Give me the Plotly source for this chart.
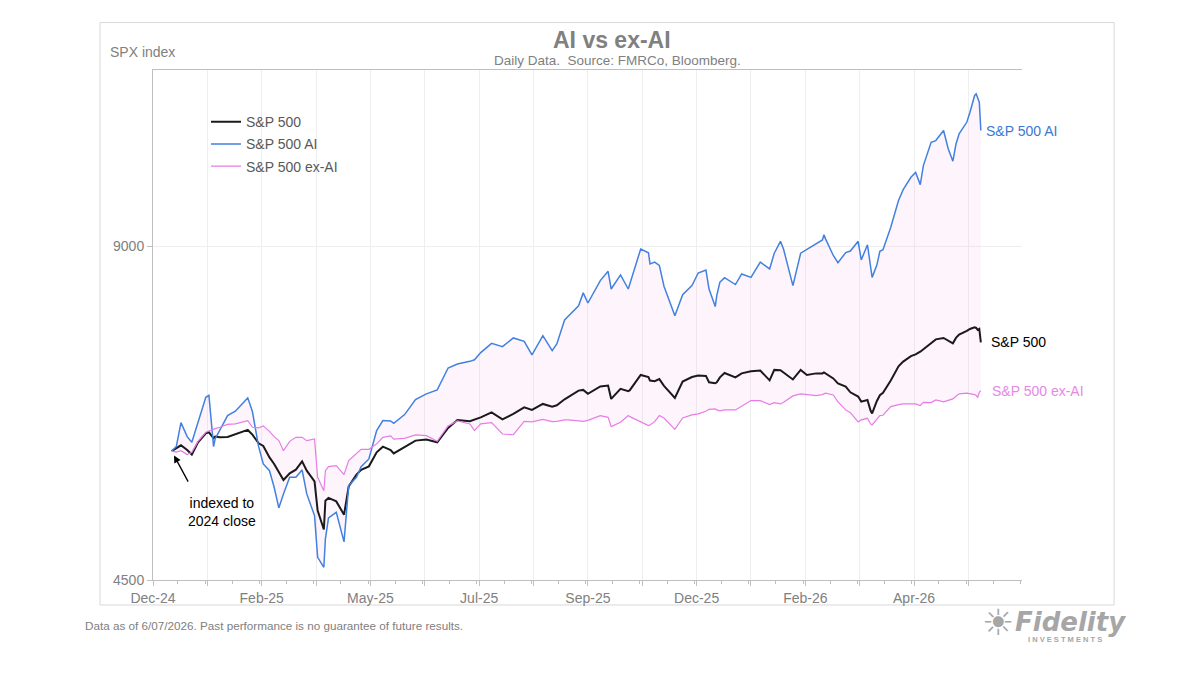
import numpy as np
import plotly.graph_objects as go

# Daily closes (index level, all rebased to the 2024 close)
dates = [
    "2024-12-31", "2025-01-03", "2025-01-06", "2025-01-10", "2025-01-13", "2025-01-17", "2025-01-22", "2025-01-24", "2025-01-27", "2025-01-28", "2025-01-31",
    "2025-02-05", "2025-02-10", "2025-02-14", "2025-02-18", "2025-02-21", "2025-02-25", "2025-02-28",
    "2025-03-04", "2025-03-07", "2025-03-10", "2025-03-13", "2025-03-17", "2025-03-21", "2025-03-25", "2025-03-28",
    "2025-04-02", "2025-04-04", "2025-04-08", "2025-04-09", "2025-04-11", "2025-04-16", "2025-04-21", "2025-04-24", "2025-04-29",
    "2025-05-02", "2025-05-07", "2025-05-12", "2025-05-16", "2025-05-21", "2025-05-23", "2025-05-30",
    "2025-06-06", "2025-06-13", "2025-06-20", "2025-06-27",
    "2025-07-03", "2025-07-11", "2025-07-14", "2025-07-18", "2025-07-25",
    "2025-08-01", "2025-08-08", "2025-08-15", "2025-08-20", "2025-08-27",
    "2025-09-02", "2025-09-05", "2025-09-10", "2025-09-12", "2025-09-19", "2025-09-22", "2025-09-25",
    "2025-10-03", "2025-10-08", "2025-10-10", "2025-10-16", "2025-10-21", "2025-10-22", "2025-10-29",
    "2025-11-03", "2025-11-04", "2025-11-07", "2025-11-10", "2025-11-13", "2025-11-20", "2025-11-25",
    "2025-12-01", "2025-12-05", "2025-12-10", "2025-12-12", "2025-12-16", "2025-12-17", "2025-12-19", "2025-12-22", "2025-12-29",
    "2026-01-02", "2026-01-08", "2026-01-14", "2026-01-20", "2026-01-23", "2026-01-27", "2026-01-29",
    "2026-02-04", "2026-02-09", "2026-02-13", "2026-02-19", "2026-02-23", "2026-02-24", "2026-02-25",
    "2026-03-02", "2026-03-05", "2026-03-10", "2026-03-13", "2026-03-18", "2026-03-20", "2026-03-24", "2026-03-26", "2026-03-27", "2026-03-30",
    "2026-04-01", "2026-04-03", "2026-04-08", "2026-04-13", "2026-04-16", "2026-04-21", "2026-04-24", "2026-04-27", "2026-04-29",
    "2026-05-04", "2026-05-07", "2026-05-12", "2026-05-15", "2026-05-18", "2026-05-20", "2026-05-22", "2026-05-27", "2026-05-29",
    "2026-06-01", "2026-06-02", "2026-06-03", "2026-06-04", "2026-06-05",
]

spx = [
    5882, 5920, 5953, 5895, 5840, 5990, 6103, 6116, 6040, 6061, 6052,
    6057, 6090, 6124, 6146, 6086, 5978, 5945,
    5805, 5727, 5639, 5539, 5616, 5659, 5757, 5647,
    5523, 5198, 4997, 5306, 5336, 5298, 5154, 5465, 5601,
    5656, 5698, 5866, 5936, 5895, 5853, 5928,
    6011, 6024, 5990, 6172,
    6275, 6257, 6275, 6309, 6375,
    6283, 6354, 6442, 6407, 6487,
    6451, 6469, 6550, 6577, 6669, 6679, 6624,
    6726, 6740, 6555, 6693, 6660, 6675, 6890,
    6860, 6809, 6800, 6830, 6735, 6569, 6795,
    6860, 6880, 6876, 6785, 6771, 6785, 6855, 6918, 6855,
    6912, 6941, 6952, 6813, 6962, 6957, 6926,
    6825, 6962, 6890, 6912, 6912, 6926, 6912,
    6840, 6770, 6726, 6646, 6587, 6518, 6541, 6398, 6360, 6523,
    6605, 6638, 6809, 7015, 7083, 7165, 7190, 7230, 7265,
    7363, 7418, 7440, 7398, 7357, 7440, 7492, 7549, 7580,
    7605, 7596, 7565, 7580, 7373,
]

spx_ai = [
    5882, 5936, 6240, 6061, 5990, 6231, 6577, 6605, 5936, 6032, 6146,
    6332, 6389, 6478, 6569, 6385, 5936, 5727,
    5647, 5456, 5227, 5381, 5570, 5570, 5656, 5381,
    5144, 4717, 4620, 4902, 5119, 5179, 4871, 5475, 5570,
    5695, 5786, 6137, 6266, 6262, 6231, 6345,
    6546, 6624, 6679, 6990,
    7048, 7087, 7110, 7217, 7357,
    7307, 7440, 7388, 7183, 7475,
    7247, 7348, 7723, 7775, 7955, 8170, 8000,
    8381, 8545, 8236, 8480, 8236, 8325, 8950,
    8880, 8677, 8710, 8651, 8283, 7790, 8140,
    8295, 8514, 8565, 8236, 7940, 8129, 8355, 8432, 8313,
    8497, 8437, 8710, 8586, 8872, 9094, 8943,
    8295, 8872, 8943, 9037, 9120, 9220, 9140,
    8830, 8700, 8883, 8912, 9094, 8749, 9028, 8677, 8437, 8651,
    8907, 8935, 9362, 9897, 10125, 10387, 10494, 10230, 10643,
    11170, 11210, 11446, 11020, 10740, 11130, 11366, 11650, 11890,
    12310, 12350, 12225, 12140, 11446,
]

spx_ex_ai = [
    5882, 5870, 5887, 5840, 5866, 6002, 6116, 6133, 6159, 6163, 6180,
    6218, 6223, 6244, 6266, 6180, 6172, 6198,
    6128, 6061, 6011, 5887, 6002, 6052, 6052, 6011,
    6032, 5570, 5417, 5647, 5695, 5707, 5601, 5766, 5858,
    5903, 5903, 5970, 6052, 6070, 6030, 6040,
    6082, 6073, 6002, 6198,
    6262, 6223, 6137, 6223, 6240,
    6094, 6085, 6257, 6249, 6283,
    6253, 6257, 6275, 6275, 6262, 6257, 6270,
    6332, 6309, 6189, 6244, 6332, 6318, 6244,
    6202, 6210, 6253, 6332, 6300, 6154, 6300,
    6341, 6354, 6389, 6415, 6420, 6407, 6394, 6407, 6407,
    6460, 6532, 6532, 6478, 6505, 6487, 6509,
    6596, 6624, 6614, 6601, 6614, 6624, 6633,
    6608, 6515, 6407, 6370, 6249, 6275, 6296, 6223, 6210, 6292,
    6332, 6336, 6451, 6478, 6487, 6487, 6487, 6464, 6509,
    6505, 6541, 6514, 6532, 6555, 6591, 6624, 6633, 6628,
    6614, 6601, 6578, 6646, 6669,
]

y_ticks = [4500, 9000]

FONT = "Liberation Sans, Arial, sans-serif"
GREY = "#808080"
BLACK = "#1a1a1a"
BLUE = "#4281e0"
PINK = "#e67de6"
DAY = 86400000

fig = go.Figure()

# shaded band between AI and ex-AI
fig.add_trace(go.Scatter(x=dates, y=spx_ex_ai, mode="lines", line=dict(width=0),
                         showlegend=False, hoverinfo="skip"))
fig.add_trace(go.Scatter(x=dates, y=spx_ai, mode="lines", line=dict(width=0),
                         fill="tonexty", fillcolor="rgba(245,180,235,0.14)",
                         showlegend=False, hoverinfo="skip"))

fig.add_trace(go.Scatter(x=dates, y=spx, mode="lines", name="S&P 500",
                         legendgroup="a", line=dict(color=BLACK, width=2)))
fig.add_trace(go.Scatter(x=dates, y=spx_ai, mode="lines", name="S&P 500 AI",
                         legendgroup="b", line=dict(color=BLUE, width=1.5)))
fig.add_trace(go.Scatter(x=dates, y=spx_ex_ai, mode="lines", name="S&P 500 ex-AI",
                         legendgroup="c", line=dict(color=PINK, width=1.2)))

# end-of-line labels
end_labels = [("S&P 500 AI", spx_ai[-1], "#3a78d4", 3),
              ("S&P 500", spx[-1], "#000000", 8),
              ("S&P 500 ex-AI", spx_ex_ai[-1], "#e887e6", 9)]
for txt, val, col, shift in end_labels:
    fig.add_annotation(x=dates[-1], y=np.log10(val), text=txt, showarrow=False,
                       xanchor="left", yanchor="middle", xshift=shift,
                       font=dict(family=FONT, size=14, color=col))

# "indexed to 2024 close" note with arrow
fig.add_annotation(x=dates[0], y=np.log10(spx[0]), text=" ", showarrow=True,
                   ax=20, ay=37, arrowhead=2, arrowsize=1.1, arrowwidth=1.3,
                   arrowcolor="black", standoff=5)
fig.add_annotation(x=0.0794, y=0.133, xref="paper", yref="paper",
                   xanchor="center", yanchor="middle",
                   text="indexed to<br>2024 close", showarrow=False, align="center",
                   font=dict(family=FONT, size=14, color="black"))

# titles and notes
fig.add_annotation(x=0.528, y=1.059, xref="paper", yref="paper", text="<b>AI vs ex-AI</b>",
                   xanchor="center", yanchor="middle",
                   showarrow=False, font=dict(family=FONT, size=23, color=GREY))
fig.add_annotation(x=0.535, y=1.018, xref="paper", yref="paper",
                   xanchor="center", yanchor="middle",
                   text="Daily Data.  Source: FMRCo, Bloomberg.", showarrow=False,
                   font=dict(family=FONT, size=13.5, color=GREY))
fig.add_annotation(x=-0.0518, y=1.035, xref="paper", yref="paper", text="SPX index",
                   xanchor="left", yanchor="middle",
                   showarrow=False, font=dict(family=FONT, size=14, color=GREY))
fig.add_annotation(x=-0.0806, y=-0.090, xref="paper", yref="paper",
                   xanchor="left", yanchor="middle",
                   text="Data as of 6/07/2026. Past performance is no guarantee of future results.",
                   showarrow=False, font=dict(family=FONT, size=11.7, color=GREY))

# logo
fig.add_annotation(x=0.9724, y=-0.084, xref="paper", yref="paper", text="☀",
                   xanchor="center", yanchor="middle",
                   showarrow=False, font=dict(family="DejaVu Sans", size=36, color="#a6a6a6"))
fig.add_annotation(x=0.990, y=-0.083, xref="paper", yref="paper",
                   xanchor="left", yanchor="middle",
                   text="<b><i>Fidelity</i></b>", showarrow=False,
                   font=dict(family="DejaVu Sans", size=26, color="#a6a6a6"))
fig.add_annotation(x=1.050, y=-0.117, xref="paper", yref="paper",
                   xanchor="center", yanchor="middle",
                   text="<b>I N V E S T M E N T S</b>", showarrow=False,
                   font=dict(family=FONT, size=7.5, color="#a6a6a6"))

# outer frame
fig.add_shape(type="rect", xref="paper", yref="paper", x0=-0.061, x1=1.106,
              y0=-0.049, y1=1.093, line=dict(color="#d9d9d9", width=1), layer="below")

fig.update_layout(
    width=1200, height=675,
    margin=dict(l=145, r=186, t=62, b=103),
    paper_bgcolor="white", plot_bgcolor="white",
    font=dict(family=FONT, size=14, color=GREY),
    showlegend=True,
    legend=dict(x=0.061, y=0.929, xanchor="left", yanchor="top",
                bgcolor="rgba(0,0,0,0)", tracegroupgap=1,
                font=dict(family=FONT, size=14, color="#595959")),
    xaxis=dict(
        type="date",
        range=["2024-12-19", "2026-07-01 12:00"],
        tick0="2024-12-19", dtick=35 * DAY, ticklabelstep=2,
        tickformat="%b-%y",
        showgrid=True, gridcolor="#eeeeee", gridwidth=1,
        showline=True, linecolor="#bfbfbf", linewidth=1, mirror=True,
        ticks="outside", ticklen=5, tickcolor="#bfbfbf",
        tickfont=dict(family=FONT, size=14, color=GREY),
        minor=dict(dtick=17.5 * DAY, ticks="outside", ticklen=3,
                   tickcolor="#bfbfbf", showgrid=False),
        zeroline=False,
    ),
    yaxis=dict(
        type="log",
        range=[np.log10(4500), np.log10(12980)],
        tickvals=y_ticks, ticktext=[str(v) for v in y_ticks],
        showgrid=True, gridcolor="#eeeeee",
        showline=True, linecolor="#bfbfbf", linewidth=1,
        ticks="outside", ticklen=5, tickcolor="#bfbfbf",
        tickfont=dict(family=FONT, size=14, color=GREY),
        zeroline=False,
    ),
)

fig.write_html("out.html")
